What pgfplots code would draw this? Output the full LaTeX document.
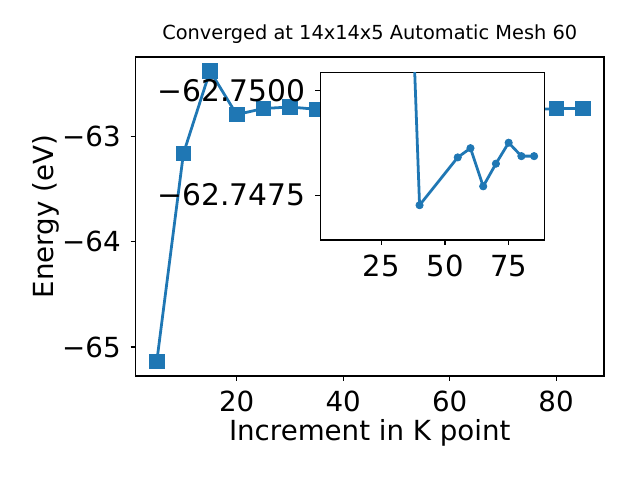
\documentclass[border=0pt]{standalone}
\usepackage{fontspec}
\setmainfont{DejaVu Sans}
\usepackage{pgfplots}
\pgfplotsset{compat=1.18}
\definecolor{mplblue}{RGB}{31,119,180}
\pgfplotstableread{
x y
5 -65.137
10 -63.164
15 -62.380
20 -62.794
25 -62.737
30 -62.722
35 -62.744
40 -62.747
55 -62.748
60 -62.749
65 -62.748
70 -62.748
75 -62.749
80 -62.737
85 -62.737
}\maindata
\pgfplotstableread{
x y
35 -62.7556
40 -62.74726
55 -62.74840
60 -62.74862
65 -62.74771
70 -62.74825
75 -62.74875
80 -62.74843
85 -62.74843
}\insetdata
\begin{document}
\begin{tikzpicture}
\useasboundingbox (0,0) rectangle (460.8bp,345.6bp);
\pgfplotsset{
  mpl/.style={
    scale only axis, anchor=south west,
    tick align=outside, major tick length=3.5bp,
    xtick pos=bottom, ytick pos=left,
    every tick/.style={line width=0.8bp, black},
    axis line style={line width=0.8bp},
    tick label style={font=\fontsize{20}{24}\selectfont, inner sep=0pt},
    xticklabel style={anchor=north, yshift=-7bp},
    yticklabel style={anchor=east, xshift=-7bp},
    /pgf/number format/assume math mode=true,
  }
}
\begin{axis}[mpl,
  at={(97.56bp,74.88bp)},
  width=337.32bp, height=229.68bp,
  xmin=1, xmax=89, ymin=-65.2749, ymax=-62.2477,
  xtick={20,40,60,80}, xticklabels={20,40,60,80},
  ytick={-65,-64,-63}, yticklabels={−65,−64,−63},
  title={Converged at 14x14x5 Automatic Mesh 60},
  title style={font=\fontsize{14}{17}\selectfont, at={(axis description cs:0.5,1)}, anchor=base, yshift=6.3bp, inner sep=0pt},
  xlabel={Increment in K point},
  ylabel={Energy (eV)},
  every axis x label/.style={at={(axis description cs:0.5,0)}, anchor=base, yshift=-46.1bp, inner sep=0pt, font=\fontsize{20}{24}\selectfont},
  every axis y label/.style={at={(axis description cs:0,0.5)}, anchor=base, rotate=90, yshift=59.2bp, inner sep=0pt, font=\fontsize{20}{24}\selectfont},
]
\addplot[mplblue, line width=2bp, mark=square*, mark size=5.2bp, mark options={solid, fill=mplblue, draw=mplblue, line width=0.5bp}] table[x=x,y=y] {\maindata};
\end{axis}
\begin{axis}[mpl,
  at={(230.6bp,172.8bp)},
  width=161.3bp, height=120.46bp,
  xmin=1, xmax=89, ymin=-62.750421, ymax=-62.746429, y dir=reverse,
  xtick={25,50,75}, xticklabels={25,50,75},
  ytick={-62.75,-62.7475}, yticklabels={−62.7500,−62.7475},
  xticklabel style={font=\fontsize{21}{25}\selectfont},
  yticklabel style={font=\fontsize{21.5}{26}\selectfont},
  axis background/.style={fill=white},
  clip marker paths=true,
]
\addplot[mplblue, line width=2bp, mark=*, mark size=2.65bp, mark options={solid, fill=mplblue, draw=mplblue, line width=0.5bp}] table[x=x,y=y] {\insetdata};
\end{axis}
\end{tikzpicture}
\end{document}
